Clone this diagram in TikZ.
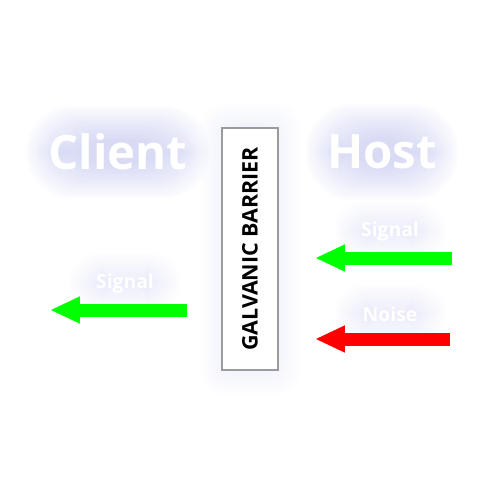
\documentclass[tikz,border=0pt]{standalone}
\usepackage{fontspec}
\setmainfont{Open Sans}
\usetikzlibrary{arrows.meta,backgrounds,calc}

\definecolor{glowcol}{RGB}{160,165,230}
\definecolor{barriergray}{RGB}{155,155,155}
\definecolor{sigGreen}{RGB}{0,255,0}
\definecolor{noiseRed}{RGB}{255,0,0}

\tikzset{
  side/.style={text=white, font=\fontsize{27}{32}\selectfont\bfseries},
  tag/.style={text=white, font=\fontsize{11}{13}\selectfont\bfseries},
  flow/.style={line width=0.26cm, -{Triangle[length=0.6cm,width=0.5cm]}},
}

\begin{document}
\begin{tikzpicture}[x=0.02cm, y=-0.02cm]
  \useasboundingbox (0,0) rectangle (500,500);

  % sides
  \node[side] (client) at (118,152) {Client};
  \node[side] (host) at (382,152) {Host};

  % barrier
  \node[
  rectangle,
  draw=barriergray,
  line width=1.6pt,
  fill=white,
  rotate=90,
  minimum width=4.84cm,
  minimum height=1.12cm,
  font=\fontsize{12.2}{14}\selectfont\bfseries,
  ] (barrier) at (250,249) {GALVANIC BARRIER};

  % labels
  \node[tag] (hsig) at (390,231) {Signal};
  \node[tag] (hnoise) at (390,314) {Noise};
  \node[tag] (csig) at (125,283) {Signal};

  % arrow ends
  \coordinate (hsigA) at (452,258);
  \coordinate (hsigB) at (315,258);
  \coordinate (hnoiseA) at (450,339);
  \coordinate (hnoiseB) at (315,339);
  \coordinate (csigA) at (187,310);
  \coordinate (csigB) at (50,310);

  \draw[flow,sigGreen] (hsigA)--(hsigB);
  \draw[flow,noiseRed] (hnoiseA)--(hnoiseB);
  \draw[flow,sigGreen] (csigA)--(csigB);

  % glow
  \begin{scope}[on background layer]
    \foreach \n/\w/\h/\o/\r in {client/92/46/0.03/26pt, host/76/48/0.03/26pt,
      hsig/56/30/0.016/16pt, hnoise/56/30/0.016/16pt, csig/56/30/0.016/16pt,
      barrier/50/146/0.012/12pt}
      \foreach \g in {0,...,15}
        \fill[glowcol, opacity=\o, rounded corners=\r]
        ($(\n.center)+(-\w+\g*2.2,-\h+\g*2.2)$) rectangle ($(\n.center)+(\w-\g*2.2,\h-\g*2.2)$);
  \end{scope}
\end{tikzpicture}
\end{document}
